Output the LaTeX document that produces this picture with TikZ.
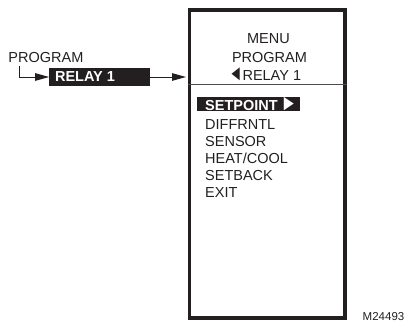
\documentclass[tikz,border=0pt]{standalone}
\usepackage{xcolor}
\usepackage{fontspec}
\setmainfont{Liberation Sans}
\usepackage{tikz}
\usetikzlibrary{arrows.meta, positioning}
\definecolor{mInk}{HTML}{231F20}
\definecolor{mRule}{HTML}{4D4D4D}
\newcommand{\lefttri}{\scalebox{0.95}[1.5]{◄}}
\newcommand{\righttri}{\scalebox{1.15}[1.55]{►}}

\begin{document}
\begin{tikzpicture}[
  x=1pt, y=-1pt,
  node distance=3.95pt,
  lcd/.style={draw=mInk, line width=3.5pt, minimum width=155.5pt, minimum height=308pt, inner sep=0pt},
  txt/.style={inner sep=0pt, text=mInk, font=\fontsize{14.5}{17}\selectfont},
  item/.style={txt, text width=90pt, align=left, text height=9.7pt, text depth=3pt},
  bar/.style={fill=mInk, text=white, inner sep=0pt, inner xsep=8pt,
              minimum height=14pt, font=\fontsize{14.5}{17}\selectfont\bfseries},
  relaybox/.style={fill=mInk, text=white, inner sep=0pt, inner xsep=5.7pt,
                   minimum height=17.3pt, font=\fontsize{14.5}{17}\selectfont\bfseries},
  arr/.style={-{Triangle[length=14pt, width=7.5pt]}, line width=1pt, color=mInk}
]
\useasboundingbox (0,0) rectangle (405,324);

% display window
\node[lcd] (lcd) at (267.25,164) {};
\coordinate (sep) at (0,84.5);
\draw[mRule, line width=0.8pt] (sep -| lcd.west) -- (sep -| lcd.east);

\node[txt, anchor=base] (hmenu) at (268.5,43.5) {MENU};
\node[txt, anchor=base] (hprog) at (269.5,62) {PROGRAM};
\node[txt, anchor=base] (hrelay) at (265,80) {\lefttri RELAY 1};

\node[bar, anchor=west] (setp) at (197,104) {\makebox[87pt][l]{SETPOINT\hspace{3pt}\righttri}};
\node[item, anchor=base west] (diff) at (205,129.7) {DIFFRNTL};
\node[item, below=of diff] (sens) {SENSOR};
\node[item, below=of sens] (heat) {HEAT/COOL};
\node[item, below=of heat] (setb) {SETBACK};
\node[item, below=of setb] (exit) {EXIT};

% key sequence
\node[txt, anchor=base west] (prog) at (8.3,63) {PROGRAM};
\node[relaybox] (relay) at (99.7,77) {\makebox[89.3pt][l]{RELAY 1}};

\draw[arr] ([xshift=10.7pt, yshift=-3pt]prog.south west) |- (relay.west);
\draw[arr, shorten >=1.75pt] (relay.east) -- (relay.east -| lcd.west);

\node[txt, anchor=base east, font=\fontsize{11.5}{13}\selectfont] (fig) at (404.5,320) {M24493};

\end{tikzpicture}
\end{document}
